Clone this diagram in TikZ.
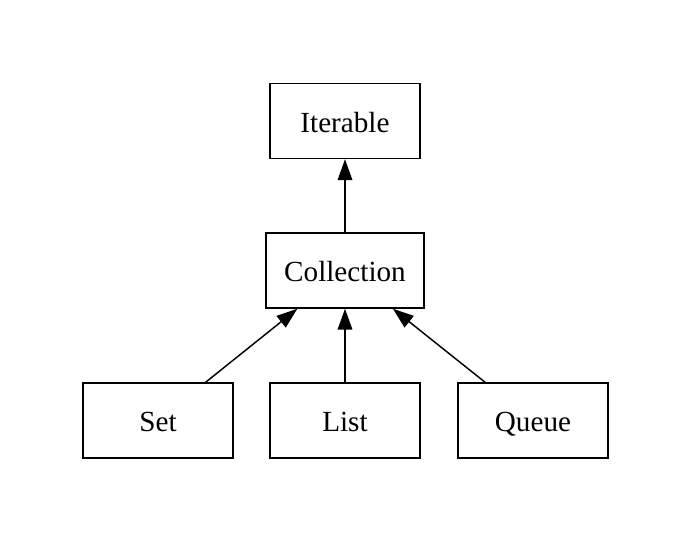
\documentclass[tikz,border=0pt]{standalone}
\usepackage{fontspec}
\setmainfont{Liberation Serif}
\usetikzlibrary{arrows.meta}
\tikzset{
	classbox/.style={draw, line width=0.7pt, minimum width=72pt, minimum height=36pt, inner sep=0pt, text height=12pt, text depth=1pt, font=\fontsize{14}{16}\selectfont},
	inherits/.style={line width=0.7pt, -{Triangle[length=10pt, width=7pt]}}
}

\begin{document}
\begin{tikzpicture}[x=0.48pt, y=-0.48pt]
			%%%%% START %%%%%
			
			\useasboundingbox (0, 0) rectangle (692, 542);
			
			\node[classbox] (iterable) at (345, 121) {Iterable};
			\node[classbox, minimum width=76pt] (collection) at (345, 270.5) {Collection};
			
			\node[classbox] (set) at (158, 420.5) {Set};
			\node[classbox] (list) at (345, 420.5) {List};
			\node[classbox] (queue) at (533, 420.5) {Queue};
			
			\draw[inherits] (collection) -- (iterable);
			\draw[inherits] (set) -- (collection);
			\draw[inherits] (list) -- (collection);
			\draw[inherits] (queue) -- (collection);
			
			%%%%% END %%%%%
\end{tikzpicture}
\end{document}
